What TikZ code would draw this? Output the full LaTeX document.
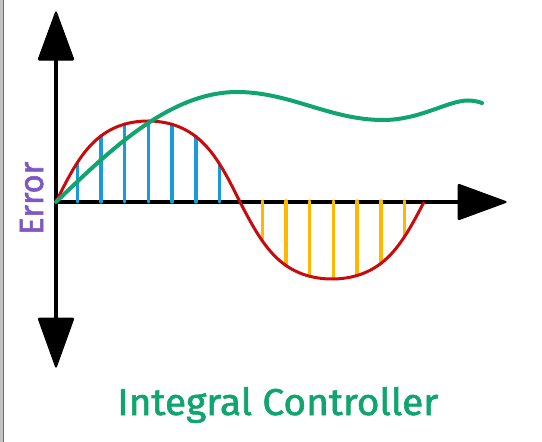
\documentclass[tikz,border=0pt]{standalone}
\usepackage{fontspec}
\setmainfont{Fira Sans}
\newfontfamily\labelfont{Fira Sans}[FakeBold=1.6]
\usepackage{graphicx}
\definecolor{axisblack}{HTML}{000000}
\definecolor{sinered}{HTML}{C80A0A}
\definecolor{barblue}{HTML}{1A9BD7}
\definecolor{barorange}{HTML}{FFB800}
\definecolor{intgreen}{HTML}{10A56E}
\definecolor{errpurple}{HTML}{7E57C2}
\definecolor{frameltgray}{HTML}{C4C4C4}
\definecolor{framedkgray}{HTML}{6A6A6A}
\tikzset{
  axisline/.style={line width=4.5pt, draw=axisblack},
  arrowtri/.style={fill=axisblack, draw=axisblack, line width=1pt, rounded corners=1.2pt},
  posbar/.style={line width=3.4pt, draw=barblue, line cap=round},
  negbar/.style={line width=3.4pt, draw=barorange, line cap=round},
  sinecurve/.style={line width=3pt, draw=sinered},
  intcurve/.style={line width=4pt, draw=intgreen, line cap=round},
}
\begin{document}
\begin{tikzpicture}[x=1pt, y=-1pt,
  declare function={
    sq(\t)=sin(\t)/sqrt(sin(\t)*sin(\t)+0.47*cos(\t)*cos(\t));
    fup(\x)=202-81*sq((\x-56)/184*180);
    fdn(\x)=202-77*sq((\x-56)/184*180);
  }]
\useasboundingbox[fill=white] (0,0) rectangle (542,442);
% left frame edge
\fill[frameltgray] (0,0) rectangle (3,442);
\fill[framedkgray] (3,0) rectangle (4.3,442);
% axes
\coordinate (O) at (56,202);
\coordinate (ytop) at (56,60);
\coordinate (ybot) at (56,318);
\coordinate (xend) at (458,202);
\draw[axisline] (ytop) -- (ybot);
\draw[axisline] (O) -- (xend);
\filldraw[arrowtri] (56,11) -- (74,60) -- (38,60) -- cycle;
\filldraw[arrowtri] (56,368) -- (38,318) -- (74,318) -- cycle;
\filldraw[arrowtri] (507,202) -- (458,220) -- (458,184) -- cycle;
% bars
\foreach \k in {0,...,6}{
  \pgfmathsetmacro{\xa}{77.3+23.7*\k}
  \pgfmathsetmacro{\ya}{fup(\xa)}
  \draw[posbar] (\xa,202) -- (\xa,\ya);
  \pgfmathsetmacro{\xb}{262.3+23.7*\k}
  \pgfmathsetmacro{\yb}{fdn(\xb)}
  \draw[negbar] (\xb,201) -- (\xb,\yb);
}
% sine
\draw[sinecurve] plot[domain=56:240, samples=100, smooth] (\x,{fup(\x)})
  -- plot[domain=240:424, samples=100, smooth] (\x,{fdn(\x)});
% integral curve
\coordinate (g0) at (56,202);
\coordinate (g1) at (237,92);
\coordinate (g2) at (383,120);
\coordinate (g3) at (468,100.5);
\coordinate (g4) at (482,103);
\draw[intcurve] (g0) .. controls (110,150) and (170,92) .. (g1)
  .. controls (290,92) and (330,120) .. (g2)
  .. controls (420,120) and (448,100.5) .. (g3)
  .. controls (475,100.6) and (479,102) .. (g4);
% labels
\node[anchor=base west, rotate=90, inner sep=0, text=errpurple] (err) at (43,235)
  {\resizebox{73pt}{23pt}{\labelfont Error}};
\node[anchor=base west, inner sep=0, text=intgreen] (title) at (117,415)
  {\resizebox{321pt}{28pt}{\labelfont Integral Controller}};
\end{tikzpicture}
\end{document}
